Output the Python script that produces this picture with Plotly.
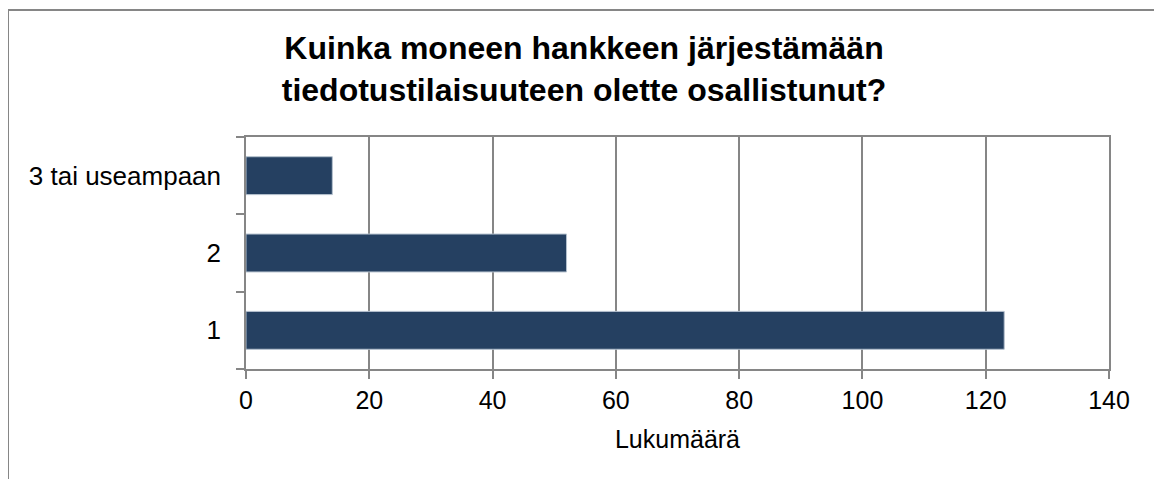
import plotly.graph_objects as go

# data
categories = ["1", "2", "3 tai useampaan"]
counts = [123, 52, 14]
x_ticks = [0, 20, 40, 60, 80, 100, 120, 140]

title_text = "Kuinka moneen hankkeen järjestämään<br>tiedotustilaisuuteen olette osallistunut?"
x_title = "Lukumäärä"

# the page body adds an 8px margin, so the figure is drawn 8px smaller
OFF = 8
W, H = 1162 - OFF, 479 - OFF
left, right, top, bottom = 246 - OFF, 1162 - 1109, 137 - OFF, 479 - 369
plot_w = W - left - right
plot_h = H - top - bottom

grey = "#868686"
bar_col = "#254061"
font = "Liberation Sans, Arial, sans-serif"

fig = go.Figure()
fig.add_trace(go.Bar(
    x=counts,
    y=categories,
    orientation="h",
    marker=dict(color=bar_col, line=dict(color="#b4c0ce", width=1)),
    showlegend=False,
))

# outer chart border (runs off the bottom of the picture)
def px_x(p):
    return (p - OFF - left) / plot_w

def px_y(p):
    return (H - bottom - (p - OFF)) / plot_h

fig.add_shape(
    type="rect", xref="paper", yref="paper",
    x0=px_x(8), x1=px_x(1160), y0=px_y(10), y1=px_y(500),
    line=dict(color=grey, width=2), fillcolor="rgba(0,0,0,0)",
    layer="below",
)

fig.update_layout(
    width=W, height=H,
    margin=dict(l=left, r=right, t=top, b=bottom, pad=0),
    paper_bgcolor="white",
    plot_bgcolor="white",
    font=dict(family=font, size=26, color="black"),
    bargap=0.51,
    title=dict(
        text="<b>" + title_text + "</b>",
        x=(584 - OFF) / W, xref="container", xanchor="center",
        y=1 - (59 - OFF) / H, yref="container", yanchor="top",
        font=dict(family=font, size=32, color="black"),
    ),
)

fig.update_xaxes(
    range=[0, 140],
    tickvals=x_ticks,
    showgrid=True, gridcolor=grey, gridwidth=1.5,
    showline=True, linecolor=grey, linewidth=1.5, mirror=True,
    ticks="outside", ticklen=8, tickcolor=grey, tickwidth=1.5,
    zeroline=False,
    tickfont=dict(size=25),
    title=dict(text=x_title, font=dict(size=25), standoff=18),
)
fig.update_yaxes(
    type="category",
    tickson="boundaries",
    showgrid=False,
    showline=True, linecolor=grey, linewidth=1.5, mirror=True,
    ticks="outside", ticklen=8, tickcolor=grey, tickwidth=1.5,
    ticklabelstandoff=18,
)

fig.write_html("out.html")
